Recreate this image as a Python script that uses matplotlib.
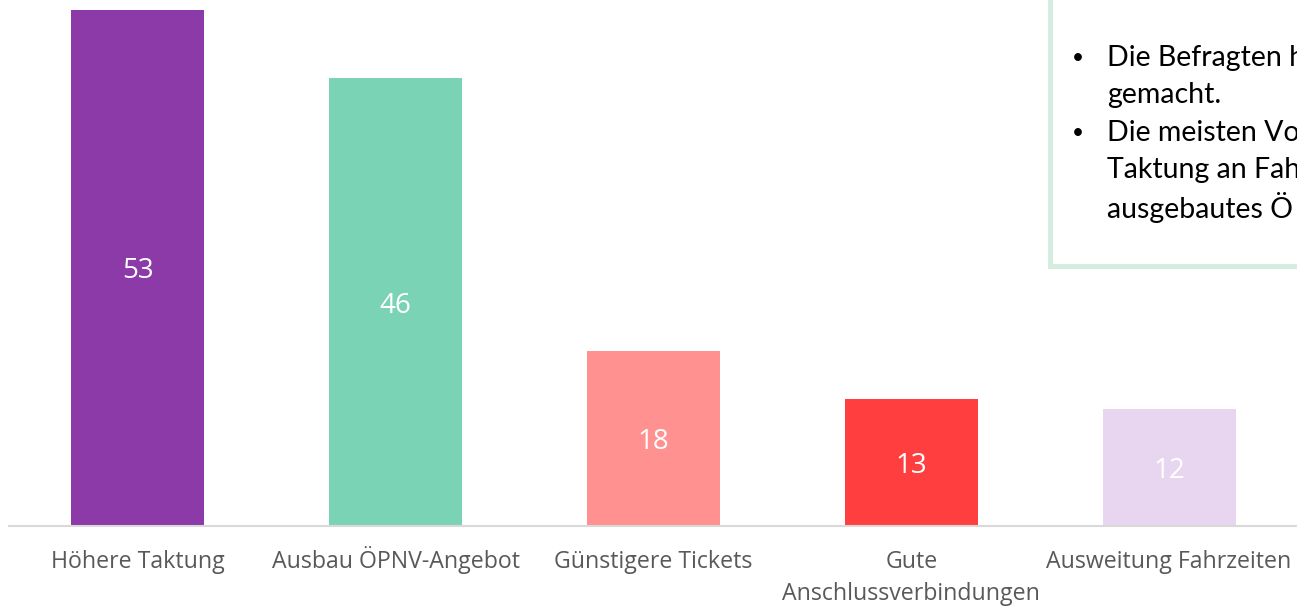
import matplotlib.pyplot as plt
from matplotlib.patches import Rectangle

# Umfrage: Verbesserungsvorschläge ÖPNV
categories = ["Höhere Taktung", "Ausbau ÖPNV-Angebot", "Günstigere Tickets",
              "Gute\nAnschlussverbindungen", "Ausweitung Fahrzeiten"]
values = [53, 46, 18, 13, 12]
colors = ["#8B3AA8", "#7BD3B5", "#FF9191", "#FF3F3F", "#E8D5F0"]
# sichtbarer (abgeschnittener) Teil der Textbox
box_lines = [("•", "Die Befragten h"), ("", "gemacht."), ("•", "Die meisten Vo"),
             ("", "Taktung an Fah"), ("", "ausgebautes Ö")]

W, H = 1297, 606
fig = plt.figure(figsize=(W / 100, H / 100), dpi=100)
ax = fig.add_axes([9 / W, 80 / H, 1289 / W, 516 / H])

x = list(range(len(categories)))
bars = ax.bar(x, values, width=0.516, color=colors)
ax.set_xlim(-0.5, len(categories) - 0.5)
ax.set_ylim(0, max(values))

# Werte mittig in die Balken
for b, v in zip(bars, values):
    ax.annotate(str(v), (b.get_x() + b.get_width() / 2, v / 2),
                xytext=(0, -2.5), textcoords="offset points",
                ha="center", va="center", color="white", fontsize=20,
                family="Open Sans")

for s in ["top", "right", "left"]:
    ax.spines[s].set_visible(False)
ax.spines["bottom"].set_color("#D9D9D9")
ax.spines["bottom"].set_linewidth(1.5)
ax.set_yticks([])
ax.set_xticks([])

# Kategorien unter der Achse, jede Zeile an ihrer Grundlinie ausgerichtet
for xi, cat in zip(x, categories):
    for k, part in enumerate(cat.split("\n")):
        ax.annotate(part, (xi, 0), xycoords=("data", "axes fraction"),
                    xytext=(0, -30.5 - k * 23), textcoords="offset points",
                    ha="center", va="baseline", fontsize=16.7, family="Open Sans",
                    color="#595959", annotation_clip=False)

# Textbox oben rechts (rechts abgeschnitten)
fig.patches.append(Rectangle((1050 / W, 1 - 266 / H), 300 / W, 400 / H,
                             transform=fig.transFigure, facecolor="white",
                             edgecolor="#D3EDE0", linewidth=3.5, zorder=5))
y0 = 58
for i, (bullet, line) in enumerate(box_lines):
    yy = 1 - (y0 + i * 37.3) / H
    if bullet:
        fig.text(1072 / W, yy, bullet, ha="left", va="center", fontsize=15,
                 family="Lato", color="black", zorder=6)
    fig.text(1107 / W, yy, line, ha="left", va="center", fontsize=20.5,
             family="Lato", color="black", zorder=6)

fig.savefig("out.png", dpi=100)
